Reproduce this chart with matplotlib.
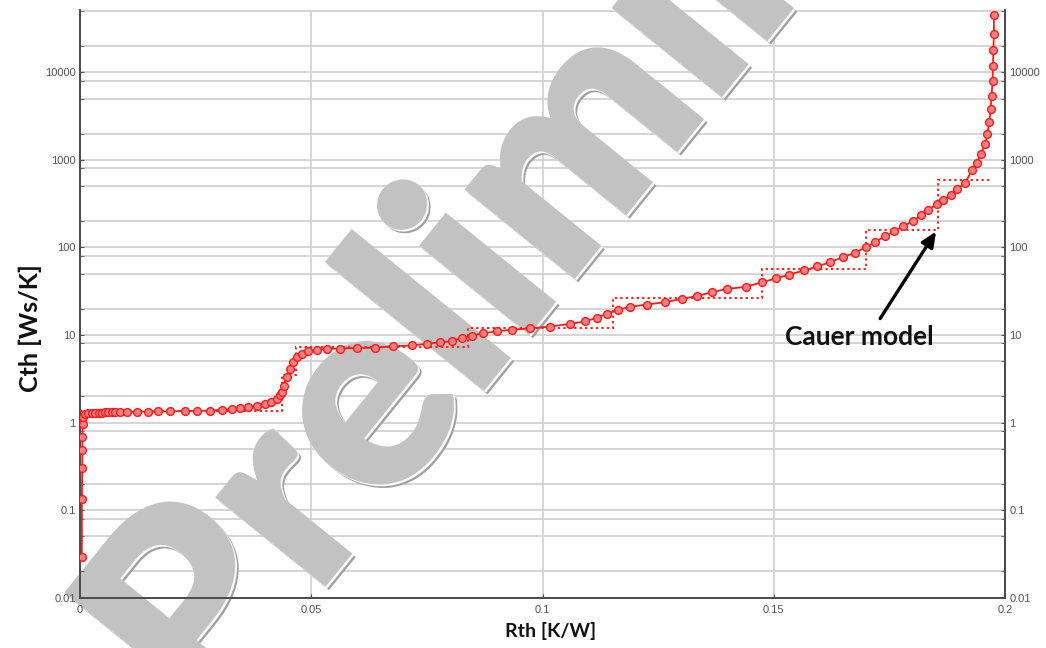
import matplotlib
matplotlib.use("Agg")
import matplotlib.pyplot as plt
import matplotlib.patheffects as pe
from matplotlib.ticker import FixedLocator, FixedFormatter, NullFormatter

# ---- data ----
rth = [0.0004, 0.0004, 0.0005, 0.0005, 0.0005, 0.0006, 0.0007, 0.0011, 0.0018, 0.0025,
       0.0032, 0.0040, 0.0047, 0.0054, 0.0061, 0.0069, 0.0076, 0.0086, 0.0101, 0.0123,
       0.0148, 0.0169, 0.0195, 0.0227, 0.0252, 0.0281, 0.0306, 0.0328, 0.0346, 0.0364,
       0.0382, 0.0400, 0.0414, 0.0425, 0.0432, 0.0436, 0.0440, 0.0447, 0.0454, 0.0461,
       0.0469, 0.0479, 0.0494, 0.0512, 0.0533, 0.0562, 0.0598, 0.0638, 0.0677, 0.0717,
       0.0750, 0.0778, 0.0804, 0.0825, 0.0847, 0.0872, 0.0901, 0.0933, 0.0973, 0.1016,
       0.1059, 0.1092, 0.1117, 0.1139, 0.1164, 0.1189, 0.1225, 0.1265, 0.1301, 0.1333,
       0.1366, 0.1398, 0.1439, 0.1475, 0.1505, 0.1534, 0.1565, 0.1594, 0.1622, 0.1649,
       0.1676, 0.1699, 0.1719, 0.1741, 0.1761, 0.1780, 0.1800, 0.1818, 0.1834, 0.1852,
       0.1867, 0.1883, 0.1897, 0.1914, 0.1928, 0.1939, 0.1948, 0.1957, 0.1962, 0.1966,
       0.1969, 0.1971, 0.1973, 0.1974, 0.1975, 0.1976, 0.1976]
cth = [0.029, 0.134, 0.30, 0.49, 0.68, 0.97, 1.15, 1.25, 1.28, 1.29,
       1.29, 1.30, 1.30, 1.31, 1.31, 1.31, 1.32, 1.32, 1.32, 1.33,
       1.33, 1.34, 1.34, 1.35, 1.36, 1.37, 1.40, 1.43, 1.47, 1.52,
       1.56, 1.64, 1.71, 1.87, 2.04, 2.22, 2.65, 3.29, 4.11, 4.89,
       5.57, 6.10, 6.53, 6.78, 6.95, 7.0, 7.1, 7.14, 7.45, 7.59,
       7.93, 8.27, 8.5, 9.3, 9.85, 10.5, 11.0, 11.5, 11.9, 12.5,
       13.4, 14.3, 15.7, 17.5, 19.4, 21.0, 22.3, 23.7, 25.9, 27.8,
       30.8, 33.5, 35.5, 40.1, 44.3, 49.1, 54.6, 60.6, 67.9, 77.5,
       87, 100.7, 115, 135, 153, 175, 198, 232, 270, 310,
       351, 400, 469, 543, 759, 919, 1178, 1503, 1992, 2704,
       3777, 5358, 7888, 11720, 18170, 27700, 44800]

# Cauer model staircase
cauer_edges = [0.0, 0.0436, 0.0466, 0.0839, 0.1152, 0.1475, 0.1699, 0.1855, 0.1972]
cauer_values = [1.35, 3.5, 7.24, 12.1, 26.4, 57.1, 159, 583]

y_ticks = [0.01, 0.1, 1, 10, 100, 1000, 10000]
y_tick_labels = ["0.01", "0.1", "1", "10", "100", "1000", "10000"]
x_ticks = [0, 0.05, 0.1, 0.15, 0.2]
x_tick_labels = ["0", "0.05", "0.1", "0.15", "0.2"]
y_minor = [m * 10.0 ** k for k in range(-2, 5) for m in (2, 5, 8)]

# ---- figure ----
fig = plt.figure(figsize=(10.46, 6.48), dpi=100)
rect = [80 / 1046, 1 - 597.7 / 648, 925 / 1046, (597.7 - 10) / 648]

# background axes: white patch + grid only
ax_bg = fig.add_axes(rect, zorder=0)
ax_bg.set_yscale("log")
ax_bg.set_xlim(0, 0.2)
ax_bg.set_ylim(0.01, 51500)
ax_bg.yaxis.set_major_locator(FixedLocator(y_ticks))
ax_bg.yaxis.set_minor_locator(FixedLocator(y_minor))
ax_bg.xaxis.set_major_locator(FixedLocator(x_ticks))
grid_c = "#d2d2d2"
ax_bg.grid(True, which="major", axis="y", color=grid_c, lw=1.3)
ax_bg.grid(True, which="minor", axis="y", color=grid_c, lw=1.3)
ax_bg.grid(True, which="major", axis="x", color="#cfcfcf", lw=1.2)
ax_bg.tick_params(which="both", length=0, labelleft=False, labelbottom=False)
for s in ax_bg.spines.values():
    s.set_visible(False)

# main axes: data, spines, ticks, labels
ax = fig.add_axes(rect, zorder=1)
ax.patch.set_visible(False)
ax.set_yscale("log")
ax.set_xlim(0, 0.2)
ax.set_ylim(0.01, 51500)
ax.yaxis.set_major_locator(FixedLocator(y_ticks))
ax.yaxis.set_major_formatter(FixedFormatter(y_tick_labels))
ax.yaxis.set_minor_locator(FixedLocator(y_minor))
ax.yaxis.set_minor_formatter(NullFormatter())
ax.xaxis.set_major_locator(FixedLocator(x_ticks))
ax.xaxis.set_major_formatter(FixedFormatter(x_tick_labels))
ax.grid(False)

for s in ("left", "bottom", "right"):
    ax.spines[s].set_color("#4a4a4a")
    ax.spines[s].set_linewidth(1.4)
ax.spines["top"].set_visible(False)

ax.tick_params(axis="y", which="both", direction="in", length=3, color="#555555",
               labelsize=8, labelcolor="#555555", right=True, labelright=True, pad=3)
ax.tick_params(axis="x", which="both", direction="in", length=3, color="#555555",
               labelsize=8, labelcolor="#555555", pad=5)
for lab in ax.get_xticklabels() + ax.get_yticklabels():
    lab.set_fontfamily("Liberation Sans")

# ---- data marks ----
ax.stairs(cauer_values, cauer_edges, baseline=None, color="#ff2020", lw=1.4,
          linestyle=(0, (1.2, 1.6)), zorder=3)
ax.plot(rth, cth, color="#ff1a1a", lw=1.3, marker="o", markersize=5.6,
        markerfacecolor="#ff8080", markeredgecolor="#ff1a1a", markeredgewidth=1.0, zorder=4)

# annotation
ax.annotate("", xy=(0.1851, 152), xytext=(0.1730, 15.4),
            arrowprops=dict(arrowstyle="-|>,head_length=0.9,head_width=0.4",
                            color="black", lw=2.4, shrinkA=0, shrinkB=0), zorder=6)
ax.text(0.1685, 7.6, "Cauer model", ha="center", va="baseline", fontsize=19,
        fontweight="bold", family="Lato", color="#111111", zorder=6)

# axis labels
fig.text(30 / 1046, 1 - 328 / 648, "Cth [Ws/K]", rotation=90, ha="center", va="center",
         fontsize=18, fontweight="bold", family="Lato", color="#111111", zorder=2)
fig.text(551 / 1046, 1 - 631 / 648, "Rth [K/W]", ha="center", va="center",
         fontsize=14, fontweight="bold", family="Lato", color="#111111", zorder=2)

# watermark: above the grid, below the data axes
fig.text(207 / 1046, 1 - 733 / 648, "Preliminary",
         rotation=51, rotation_mode="anchor", ha="left", va="baseline",
         fontsize=197, fontweight="heavy", family="Lato", color="#c2c2c2",
         zorder=0.5,
         path_effects=[pe.SimplePatchShadow(offset=(2.5, -2.5), shadow_rgbFace="#a0a0a0", alpha=1.0),
                       pe.SimplePatchShadow(offset=(1.3, -1.3), shadow_rgbFace="#fafafa", alpha=1.0),
                       pe.Normal()])

fig.savefig("out.png", dpi=100)
